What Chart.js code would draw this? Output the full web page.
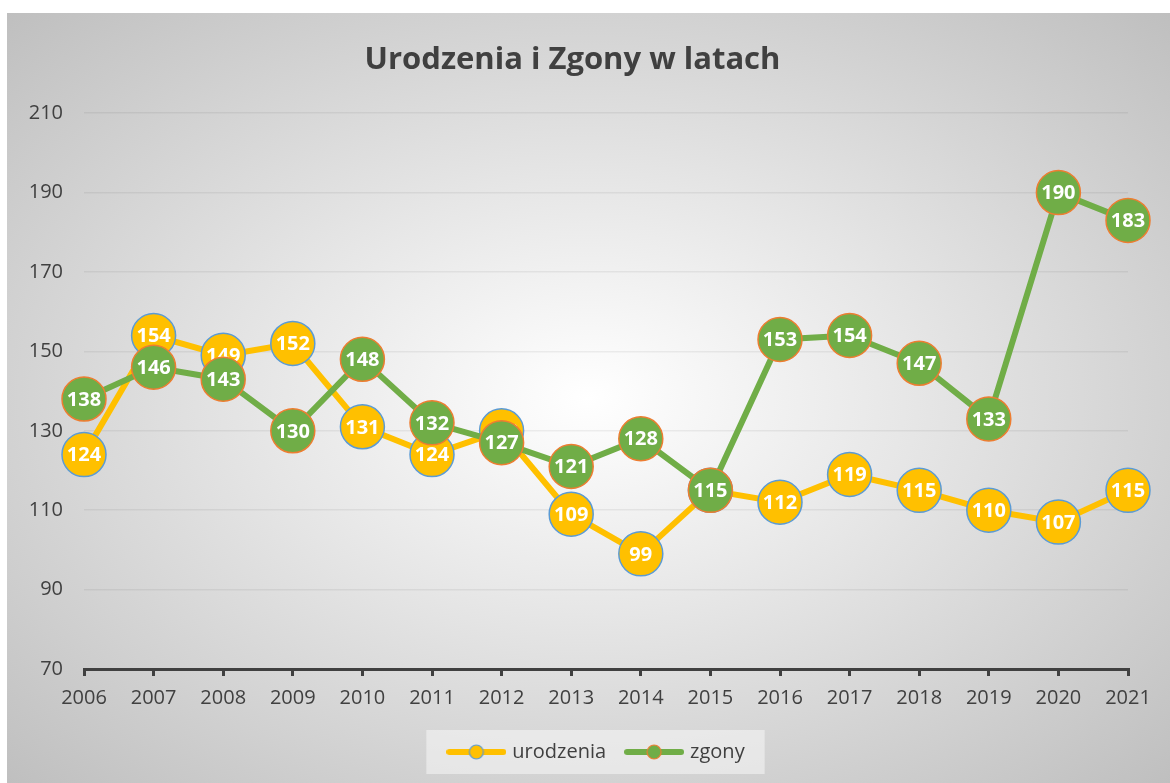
<!DOCTYPE html>
<html>
<head>
<meta charset="utf-8">
<script src="https://cdn.jsdelivr.net/npm/chart.js@4.4.1/dist/chart.umd.min.js"></script>
<style>
  body { margin: 0; background: #fff; }
  .wrap {
    position: absolute; left: 7px; top: 13px; width: 1163px; height: 770px;
    background: radial-gradient(ellipse farthest-corner at 50% 50%, #ffffff 0%, #e6e6e6 40%, #bfbfbf 100%);
  }
</style>
</head>
<body>
<div class="wrap"><canvas id="chart"></canvas></div>
<script>
const years = ["2006", "2007", "2008", "2009", "2010", "2011", "2012", "2013", "2014", "2015", "2016", "2017", "2018", "2019", "2020", "2021"];
const urodzenia = [124, 154, 149, 152, 131, 124, 130, 109, 99, 115, 112, 119, 115, 110, 107, 115];
const zgony = [138, 146, 143, 130, 148, 132, 127, 121, 128, 115, 153, 154, 147, 133, 190, 183];
const yTicks = [70, 90, 110, 130, 150, 170, 190, 210];

const yellow = "#FFC000", green = "#70AD47", blue = "#5B9BD5", orange = "#ED7D31";
const fontFamily = "'Open Sans', sans-serif";

// legend symbol: line with circle in middle
function legendIcon(lineColor, fill, border) {
  const c = document.createElement("canvas");
  c.width = 60; c.height = 18;
  const g = c.getContext("2d");
  g.strokeStyle = lineColor; g.lineWidth = 6; g.lineCap = "round";
  g.beginPath(); g.moveTo(3, 9); g.lineTo(57, 9); g.stroke();
  g.beginPath(); g.arc(30, 9, 7, 0, Math.PI * 2);
  g.fillStyle = fill; g.fill();
  g.lineWidth = 1.2; g.strokeStyle = border; g.stroke();
  return c;
}
const legendIcons = [legendIcon(yellow, yellow, blue), legendIcon(green, green, orange)];

// white value labels inside markers
const valueLabels = {
  id: "valueLabels",
  afterDatasetDraw(chart, args) {
    const ctx = chart.ctx;
    const data = chart.data.datasets[args.index].data;
    ctx.save();
    ctx.font = "bold 20px " + fontFamily;
    ctx.fillStyle = "#fff";
    ctx.textAlign = "center";
    ctx.textBaseline = "middle";
    args.meta.data.forEach((pt, i) => {
      ctx.fillText(String(data[i]), pt.x, pt.y + 1);
    });
    ctx.restore();
  }
};

// light box behind the legend, legend nudged a bit to the right
const legendBox = {
  id: "legendBox",
  afterLayout(chart) {
    const lg = chart.legend;
    lg.left += 25;
    lg.right += 25;
  },
  beforeDraw(chart) {
    const lg = chart.legend;
    if (!lg || !lg.legendHitBoxes.length) return;
    const first = lg.legendHitBoxes[0];
    const last = lg.legendHitBoxes[lg.legendHitBoxes.length - 1];
    const ctx = chart.ctx;
    ctx.save();
    ctx.fillStyle = "rgba(255,255,255,0.45)";
    ctx.fillRect(first.left - 24, first.top - 12, last.left + last.width - first.left + 44, first.height + 24);
    ctx.restore();
  }
};

new Chart(document.getElementById("chart").getContext("2d"), {
  type: "line",
  data: {
    labels: years,
    datasets: [{
      label: "urodzenia",
      data: urodzenia,
      order: 1,
      borderColor: yellow,
      backgroundColor: yellow,
      borderWidth: 6,
      pointStyle: "circle",
      pointRadius: 22,
      pointBackgroundColor: yellow,
      pointBorderColor: blue,
      pointBorderWidth: 1.5,
      tension: 0
    }, {
      label: "zgony",
      data: zgony,
      order: 0,
      borderColor: green,
      backgroundColor: green,
      borderWidth: 6,
      pointStyle: "circle",
      pointRadius: 22,
      pointBackgroundColor: green,
      pointBorderColor: orange,
      pointBorderWidth: 1.5,
      tension: 0
    }]
  },
  options: {
    responsive: true,
    maintainAspectRatio: false,
    animation: false,
    layout: { padding: { left: 10, right: 42, top: 0, bottom: 11 } },
    plugins: {
      tooltip: { enabled: false },
      title: {
        display: true,
        text: "Urodzenia i Zgony w latach",
        color: "#404040",
        font: { family: fontFamily, size: 31, weight: "bold" },
        padding: { top: 29, bottom: 34 }
      },
      legend: {
        position: "bottom",
        labels: {
          usePointStyle: true,
          pointStyleWidth: 52,
          color: "#404040",
          font: { family: fontFamily, size: 20 },
          padding: 22,
          sort: (a, b) => a.datasetIndex - b.datasetIndex,
          generateLabels: (chart) => chart.data.datasets.map((ds, i) => ({
            text: ds.label,
            pointStyle: legendIcons[i],
            fillStyle: ds.backgroundColor,
            strokeStyle: ds.borderColor,
            lineWidth: 0,
            fontColor: "#404040",
            datasetIndex: i
          }))
        }
      }
    },
    scales: {
      x: {
        offset: false,
        grid: { drawOnChartArea: false, drawTicks: true, tickLength: 7, color: "#404040", lineWidth: 3 },
        border: { display: true, color: "#404040", width: 3 },
        ticks: { color: "#404040", font: { family: fontFamily, size: 20 }, padding: 10, maxRotation: 0 }
      },
      y: {
        min: yTicks[0],
        max: yTicks[yTicks.length - 1],
        afterBuildTicks: (scale) => { scale.ticks = yTicks.map(v => ({ value: v })); },
        afterFit: (scale) => { scale.width = 67; },
        grid: { drawTicks: false, color: "rgba(0,0,0,0.06)", lineWidth: 1.5 },
        border: { display: false },
        ticks: { color: "#404040", font: { family: fontFamily, size: 20 }, padding: 21 }
      }
    }
  },
  plugins: [legendBox, valueLabels]
});
</script>
</body>
</html>
